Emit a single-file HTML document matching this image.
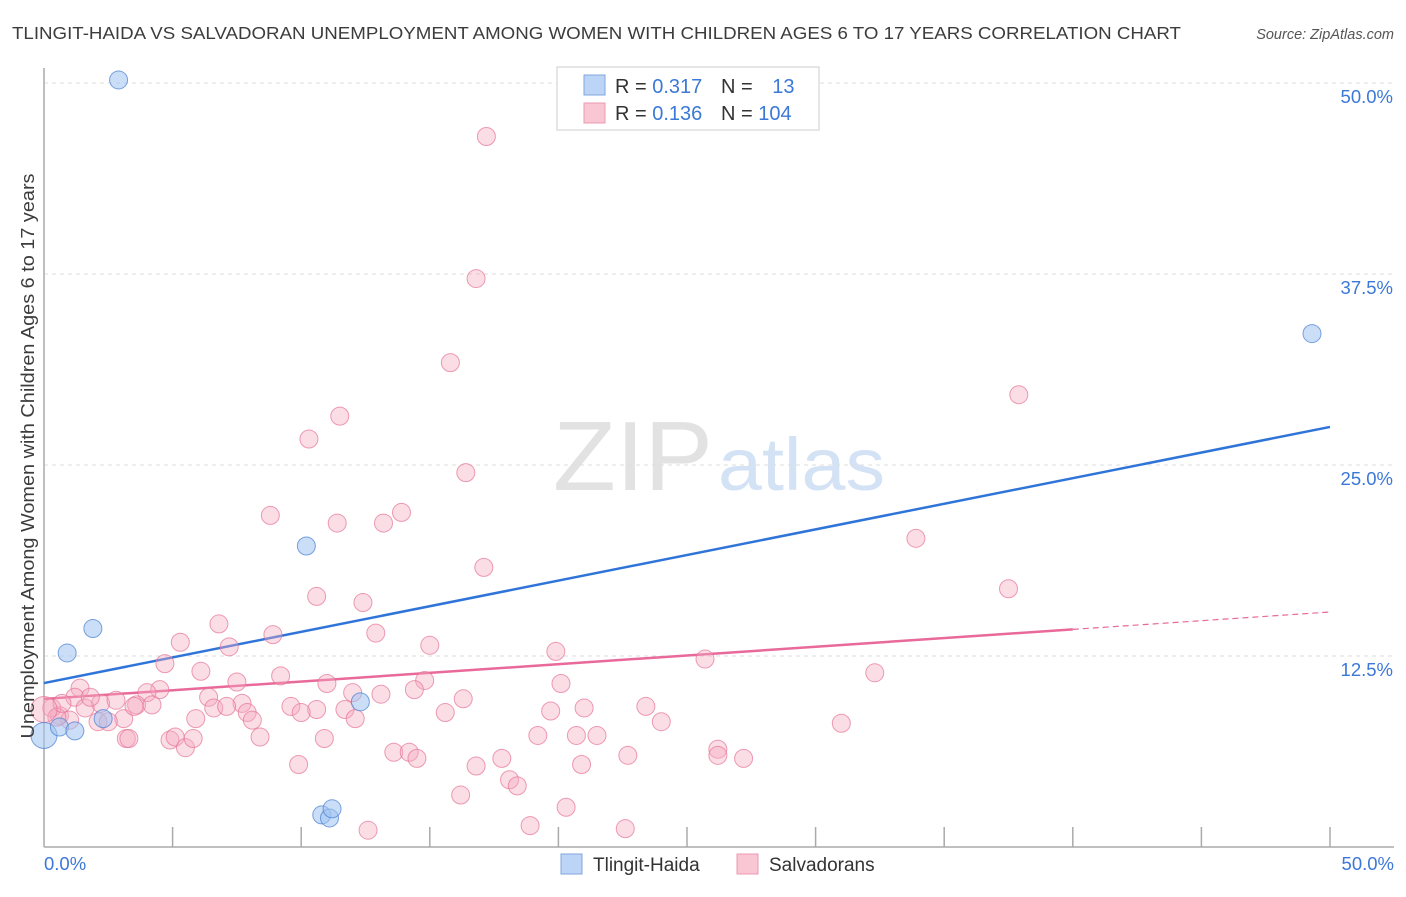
<!DOCTYPE html>
<html><head><meta charset="utf-8"><style>
body{margin:0;background:#fff;font-family:"Liberation Sans",sans-serif;}
svg text{font-family:"Liberation Sans",sans-serif;}
</style></head><body>
<svg id="chart" width="1406" height="892">
<text x="12" y="39" font-size="17.5" fill="#3c3c3c" textLength="1169" lengthAdjust="spacingAndGlyphs">TLINGIT-HAIDA VS SALVADORAN UNEMPLOYMENT AMONG WOMEN WITH CHILDREN AGES 6 TO 17 YEARS CORRELATION CHART</text>
<text x="1394" y="39" font-size="14.5" fill="#555" text-anchor="end" font-style="italic">Source: ZipAtlas.com</text>
<g><text x="553" y="490" font-size="98" fill="#e2e2e2" font-family="Liberation Serif,serif" textLength="160" lengthAdjust="spacingAndGlyphs">ZIP</text><text x="718" y="490" font-size="74" fill="#d3e2f4" textLength="167" lengthAdjust="spacingAndGlyphs">atlas</text></g>
<g id="grid"></g><g id="axes"></g><g id="lines"></g><g id="pts"></g>
<text transform="translate(34,456) rotate(-90)" font-size="18" fill="#3c3c3c" text-anchor="middle" textLength="565" lengthAdjust="spacingAndGlyphs">Unemployment Among Women with Children Ages 6 to 17 years</text>
<g>
<rect x="557" y="67" width="262" height="63" fill="#fff" stroke="#ccc"/>
<rect x="584" y="75" width="21" height="20" fill="#bcd4f5" stroke="#7fa6de"/>
<rect x="584" y="103" width="21" height="20" fill="#f9c6d4" stroke="#eb98b1"/>
<text x="615" y="93" font-size="20" fill="#333">R = <tspan fill="#3b78d8">0.317</tspan></text>
<text x="721" y="93" font-size="20" fill="#333">N = <tspan fill="#3b78d8" dx="14">13</tspan></text>
<text x="615" y="120" font-size="20" fill="#333">R = <tspan fill="#3b78d8">0.136</tspan></text>
<text x="721" y="120" font-size="20" fill="#333">N = <tspan fill="#3b78d8">104</tspan></text>
</g>
<g>
<rect x="561" y="854" width="21" height="20" fill="#bcd4f5" stroke="#7fa6de"/>
<text x="593" y="871" font-size="19" fill="#333">Tlingit-Haida</text>
<rect x="737" y="854" width="21" height="20" fill="#f9c6d4" stroke="#eb98b1"/>
<text x="769" y="871" font-size="19" fill="#333">Salvadorans</text>
</g>
</svg>
<script>
const yTicks=[12.5,25,37.5,50];
const yTickLabels=["12.5%","25.0%","37.5%","50.0%"];
const xTicks=[0,5,10,15,20,25,30,35,40,45,50];
const blueX=[2.9,0,0.6,1.2,0.9,1.9,2.3,10.2,12.3,10.8,11.1,11.2,49.3];
const blueY=[50.2,7.3,7.85,7.6,12.7,14.3,8.4,19.7,9.5,2.1,1.9,2.5,33.6];
const pinkX=[17.2,16.8,15.8,11.5,10.3,16.4,8.8,13.9,13.2,11.4,17.1,10.6,12.4,37.9,33.9,37.5,6.8,5.3,8.9,12.9,7.2,15.0,19.9,4.7,6.1,9.2,7.5,11.0,14.8,20.1,25.7,32.3,1.4,4.5,4.0,1.2,2.2,2.8,3.6,4.2,6.4,7.7,12.0,13.1,14.4,16.3,9.6,10.6,11.7,6.6,7.1,7.9,10.0,19.7,21.0,23.4,24.0,31.0,15.6,5.9,3.1,2.1,2.5,8.1,12.1,0.6,0.3,1.0,3.2,3.3,4.9,5.1,5.5,5.8,8.4,10.9,19.2,20.7,21.5,13.6,14.2,14.5,17.8,22.7,26.2,26.2,27.2,9.9,16.8,20.9,18.1,18.4,16.2,20.3,18.9,12.6,22.6,3.5,1.6,1.8,0.5,0.7,0.0];
const pinkY=[46.5,37.2,31.7,28.2,26.7,24.5,21.7,21.9,21.2,21.2,18.3,16.4,16.0,29.6,20.2,16.9,14.6,13.4,13.9,14.0,13.1,13.2,12.8,12.0,11.5,11.2,10.8,10.7,10.9,10.7,12.3,11.4,10.4,10.3,10.1,9.8,9.4,9.6,9.3,9.3,9.8,9.4,10.1,10.0,10.3,9.7,9.2,9.0,9.0,9.1,9.2,8.8,8.8,8.9,9.1,9.2,8.2,8.1,8.8,8.4,8.4,8.2,8.2,8.3,8.4,8.6,9.1,8.3,7.1,7.1,7.0,7.2,6.5,7.1,7.2,7.1,7.3,7.3,7.3,6.2,6.2,5.8,5.8,6.0,6.4,6.0,5.8,5.4,5.3,5.4,4.4,4.0,3.4,2.6,1.4,1.1,1.2,9.2,9.1,9.8,8.5,9.4,9.0];
const blueTrend=[10.73,27.49];
const pinkTrend=[9.69,15.38];
const pinkSolidEnd=40;
const X0=44,X1=1330,YB=847,YT=83;
const sx=v=>X0+(X1-X0)*v/50;
const sy=v=>YB-(YB-YT)*v/50;
const NS="http://www.w3.org/2000/svg";
function mk(t,a,p){const e=document.createElementNS(NS,t);for(const k in a)e.setAttribute(k,a[k]);document.getElementById(p).appendChild(e);return e;}
yTicks.forEach((v,i)=>{
 const g=mk('line',{x1:X0,x2:1394,y1:sy(v),y2:sy(v),stroke:'#ddd','stroke-dasharray':'4,4'},'grid');
 
 
 const t=mk('text',{x:1393,y:sy(v)+20,'font-size':18.5,fill:'#3b78d8','text-anchor':'end'},'grid');t.textContent=yTickLabels[i];
 
 
});
const ax=mk('line',{x1:X0,x2:1394,y1:YB,y2:YB,stroke:'#aaa','stroke-width':1.5},'axes');


const ay=mk('line',{x1:X0,x2:X0,y1:68,y2:YB,stroke:'#aaa','stroke-width':1.5},'axes');


xTicks.forEach(v=>{if(v===0)return;const l=mk('line',{x1:sx(v),x2:sx(v),y1:YB,y2:YB-20,stroke:'#aaa','stroke-width':1.5},'axes');
 
 });
const xl0=mk('text',{x:44,y:870,'font-size':18.5,fill:'#3b78d8'},'axes');xl0.textContent='0.0%';


const xl1=mk('text',{x:1394,y:870,'font-size':18.5,fill:'#3b78d8','text-anchor':'end'},'axes');xl1.textContent='50.0%';


pinkX.forEach((x,i)=>{const c=mk('circle',{cx:sx(x),cy:sy(pinkY[i]),r:(x===0?13:9),fill:'rgba(246,170,192,0.4)',stroke:'rgba(230,115,150,0.7)','stroke-width':1},'pts');
 
 });
blueX.forEach((x,i)=>{const c=mk('circle',{cx:sx(x),cy:sy(blueY[i]),r:(x===0?13:9),fill:'rgba(160,195,240,0.55)',stroke:'rgba(70,125,210,0.7)','stroke-width':1},'pts');
 
 });
const bl=mk('line',{x1:sx(0),y1:sy(blueTrend[0]),x2:sx(50),y2:sy(blueTrend[1]),stroke:'#2f74d8','stroke-width':2.5},'lines');


const pm=pinkTrend[0]+(pinkTrend[1]-pinkTrend[0])*pinkSolidEnd/50;
const pl=mk('line',{x1:sx(0),y1:sy(pinkTrend[0]),x2:sx(pinkSolidEnd),y2:sy(pm),stroke:'#e8699a','stroke-width':2.5},'lines');


const pd=mk('line',{x1:sx(pinkSolidEnd),y1:sy(pm),x2:sx(50),y2:sy(pinkTrend[1]),stroke:'#e8699a','stroke-width':1.2,'stroke-dasharray':'6,4'},'lines');


</script>
</body></html>
